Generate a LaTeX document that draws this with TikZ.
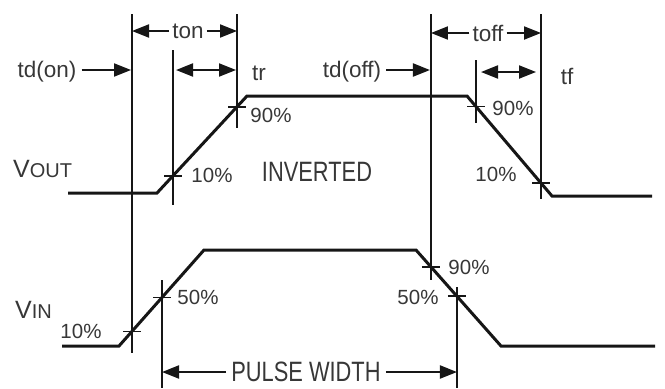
\documentclass[tikz,border=0pt]{standalone}
\usepackage{fontspec}
\setmainfont{Liberation Sans}
\newfontfamily\narrowf{Liberation Sans}[FakeStretch=0.78]
\usetikzlibrary{arrows.meta,calc}
\definecolor{txt}{RGB}{55,55,55}
\definecolor{ln}{RGB}{22,22,22}
\tikzset{
 wave/.style={line width=3bp, draw=ln, line join=miter},
 guide/.style={line width=2bp, draw=ln},
 tickm/.style={line width=1.6bp, draw=ln},
 dimone/.style={line width=2bp, draw=ln, -{Triangle[length=17bp,width=13bp]}},
 dimtwo/.style={line width=2bp, draw=ln, {Triangle[length=17bp,width=13bp]}-{Triangle[length=17bp,width=13bp]}},
 lbl/.style={inner sep=0pt, text=txt, font=\fontsize{20.5bp}{24bp}\selectfont},
 biglbl/.style={inner ysep=0pt, inner xsep=5bp, text=txt, font=\narrowf\fontsize{28bp}{30bp}\selectfont},
 tlbl/.style={inner ysep=0pt, inner xsep=3bp, text=txt, font=\fontsize{22.5bp}{26bp}\selectfont},
}
\begin{document}
\begin{tikzpicture}[x=1bp,y=-1bp]
\useasboundingbox (0,0) rectangle (665,388);
% waveforms
\coordinate (o0) at (68,193);
\coordinate (o1) at (157,193);
\coordinate (o2) at (247,96);
\coordinate (o3) at (467,96);
\coordinate (o4) at (552,196);
\coordinate (o5) at (652,196);
\draw[wave] (o0)--(o1)--(o2)--(o3)--(o4)--(o5);
\coordinate (i0) at (62,346);
\coordinate (i1) at (119,346);
\coordinate (i2) at (204,250);
\coordinate (i3) at (416,250);
\coordinate (i4) at (501,346);
\coordinate (i5) at (655,346);
\draw[wave] (i0)--(i1)--(i2)--(i3)--(i4)--(i5);
% tick points
\coordinate (r10) at ($(o1)!0.178!(o2)$);
\coordinate (r90) at ($(o1)!0.889!(o2)$);
\coordinate (f90) at ($(o3)!0.106!(o4)$);
\coordinate (f10) at ($(o3)!0.871!(o4)$);
\coordinate (a10) at ($(i1)!0.153!(i2)$);
\coordinate (a50) at ($(i1)!0.506!(i2)$);
\coordinate (b90) at ($(i3)!0.176!(i4)$);
\coordinate (b50) at ($(i3)!0.482!(i4)$);
\foreach \p in {r10,r90,f90,f10,a10,a50,b90,b50}
  \draw[tickm] ($(\p)+(-9,0)$) -- ($(\p)+(9,0)$);
% y levels
\coordinate (y14) at (0,14);
\coordinate (y50) at (0,50);
\coordinate (y60) at (0,60);
\coordinate (y123) at (0,123);
\coordinate (y128) at (0,128);
\coordinate (y199) at (0,199);
\coordinate (y205) at (0,205);
\coordinate (y280) at (0,280);
\coordinate (y287) at (0,287);
\coordinate (y353) at (0,353);
\coordinate (y388) at (0,388);
\coordinate (y70) at (0,70);
\coordinate (y72) at (0,72);
% guide lines
\draw[guide] (a10|-y14) -- (a10|-y353);
\draw[guide] (r10|-y50) -- (r10|-y205);
\draw[guide] (r90|-y14) -- (r90|-y128);
\draw[guide] (b90|-y14) -- (b90|-y280);
\draw[guide] (f90|-y60) -- (f90|-y123);
\draw[guide] (f10|-y14) -- (f10|-y199);
\draw[guide] (a50|-y280) -- (a50|-y388);
\draw[guide] (b50|-y287) -- (b50|-y388);
% timing labels
\node[tlbl] (ton) at (188,31) {ton};
\draw[dimone] (ton.west) -- (a10|-ton.west);
\draw[dimone] (ton.east) -- (r90|-ton.east);
\node[tlbl,inner xsep=4bp] (tdon) at (47,72) {td(on)};
\draw[dimone] ([xshift=1bp]tdon.east|-y70) -- ([xshift=-1bp]a10|-y70);
\draw[dimtwo,shorten <=3bp,shorten >=1bp] (r10|-y70) -- (r90|-y70);
\node[tlbl] (tr) at (259,73) {tr};
\node[tlbl,inner xsep=4bp] (tdoff) at (352,72) {td(off)};
\draw[dimone] ([xshift=1bp]tdoff.east|-y70) -- ([xshift=-1bp]b90|-y70);
\node[tlbl] (toff) at (488,33) {toff};
\draw[dimone] (toff.west) -- (b90|-toff.west);
\draw[dimone] (toff.east) -- (f10|-toff.east);
\draw[dimtwo,shorten <=5bp,shorten >=5bp] (f90|-y72) -- (f10|-y72);
\node[tlbl] (tf) at (567,76) {tf};
\node[biglbl] (pw) at (306,372) {PULSE WIDTH};
\draw[dimone] (pw.west) -- (a50|-pw.west);
\draw[dimone] (pw.east) -- (b50|-pw.east);
% level labels
\node[lbl] (p1) at (212,175) {10\%};
\node[lbl] (p2) at (271,115) {90\%};
\node[biglbl,inner xsep=0pt] (inv) at (317,172) {INVERTED};
\node[lbl] (p3) at (513,108) {90\%};
\node[lbl] (p4) at (496,174) {10\%};
\node[lbl] (p5) at (81,331) {10\%};
\node[lbl] (p6) at (198,297) {50\%};
\node[lbl] (p7) at (469,267) {90\%};
\node[lbl] (p8) at (418,297) {50\%};
\node[inner sep=0pt, text=txt, anchor=base west] (vout) at (13,177)
  {\fontsize{25bp}{26bp}\selectfont V\fontsize{20bp}{22bp}\selectfont OUT};
\node[inner sep=0pt, text=txt, anchor=base west] (vin) at (15,318)
  {\fontsize{25bp}{28bp}\selectfont V\fontsize{20bp}{22bp}\selectfont IN};
\end{tikzpicture}
\end{document}
